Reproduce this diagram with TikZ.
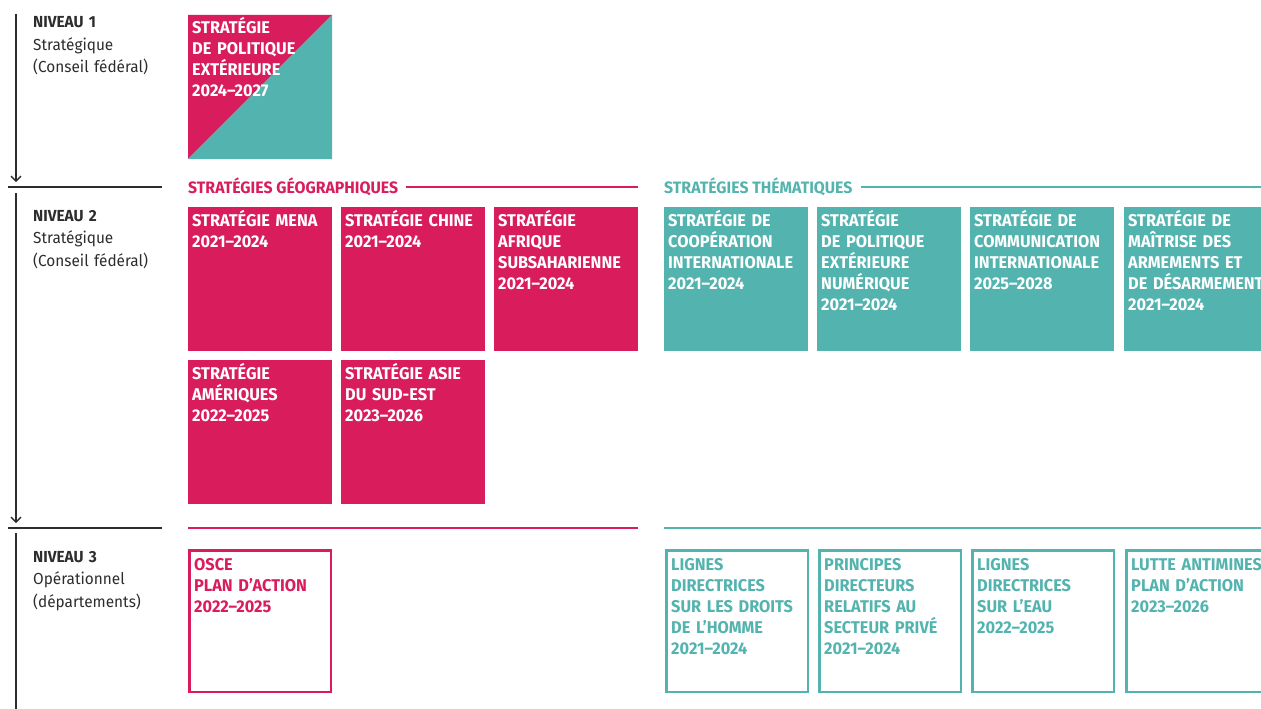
\documentclass[tikz,border=0pt]{standalone}
\usepackage{fontspec}
\setmainfont{Fira Sans}[FakeStretch=0.96]
\usetikzlibrary{arrows.meta}
\definecolor{cpink}{RGB}{217,28,92}
\definecolor{cteal}{RGB}{83,179,174}
\definecolor{cdark}{RGB}{45,45,45}
\tikzset{
  sq/.style={draw=none, minimum width=144pt, minimum height=144pt, anchor=north west, inner sep=0pt, outer sep=0pt},
  gsq/.style={sq, fill=cpink},
  tsq/.style={sq, fill=cteal},
  osq/.style={sq, draw=#1, line width=2.5pt, minimum width=141.5pt, minimum height=141.5pt},
  btxt/.style={anchor=base west, inner sep=0pt, text width=150pt, align=left, font=\bfseries\fontsize{17}{21}\selectfont, text=white},
  hdr/.style={anchor=base west, inner sep=0pt, font=\bfseries\fontsize{16.5}{20}\selectfont},
  lvl/.style={anchor=base west, inner sep=0pt, text width=130pt, align=left, text=cdark, font=\fontsize{16}{22.5}\selectfont},
  axis/.style={cdark, line width=1.3pt},
  axarr/.style={axis, -{Straight Barb[length=5pt,width=10pt]}},
  sep/.style={cdark, line width=1.5pt},
}
\begin{document}
\begin{tikzpicture}[x=1pt,y=-1pt]
\useasboundingbox (0,0) rectangle (1261,709);
\clip (0,0) rectangle (1261,709);

% axis on the left
\coordinate (a1s) at (16,14);
\coordinate (a1e) at (16,182);
\coordinate (a2s) at (16,193);
\coordinate (a2e) at (16,523);
\coordinate (a3s) at (16,533);
\coordinate (a3e) at (16,709);
\coordinate (s1a) at (8,187);
\coordinate (s1b) at (162,187);
\coordinate (s2a) at (8,528);
\coordinate (s2b) at (162,528);
\draw[axarr] (a1s) -- (a1e);
\draw[axarr] (a2s) -- (a2e);
\draw[axis] (a3s) -- (a3e);
\draw[sep] (s1a) -- (s1b);
\draw[sep] (s2a) -- (s2b);

% level labels
\node[lvl] (n1) at (33,28) {\textbf{NIVEAU 1}\\Stratégique\\(Conseil fédéral)};
\node[lvl] (n2) at (33,221) {\textbf{NIVEAU 2}\\Stratégique\\(Conseil fédéral)};
\node[lvl] (n3) at (33,562) {\textbf{NIVEAU 3}\\Opérationnel\\(départements)};

% level 1
\node[sq] (pol) at (188,15) {};
\fill[cpink] (pol.south west) -- (pol.north west) -- (pol.north east) -- cycle;
\fill[cteal] (pol.south west) -- (pol.south east) -- (pol.north east) -- cycle;
\node[btxt] (polt) at (192,34) {STRATÉGIE\\DE POLITIQUE\\EXTÉRIEURE\\2024--2027};

% headers
\node[hdr, text=cpink] (hgeo) at (188,193) {STRATÉGIES GÉOGRAPHIQUES};
\coordinate (hgeoE) at (638,187);
\draw[cpink, line width=2pt] (hgeo.east |- hgeoE) ++(8,0) -- (hgeoE);
\node[hdr, text=cteal] (hthe) at (664,193) {STRATÉGIES THÉMATIQUES};
\coordinate (htheE) at (1261,187);
\draw[cteal, line width=2pt] (hthe.east |- htheE) ++(8,0) -- (htheE);

% level 2 geographic
\node[gsq] (mena) at (188,207) {};
\node[btxt] at (192,226) {STRATÉGIE MENA\\2021--2024};
\node[gsq] (chine) at (341,207) {};
\node[btxt] at (345,226) {STRATÉGIE CHINE\\2021--2024};
\node[gsq] (afr) at (494,207) {};
\node[btxt] at (498,226) {STRATÉGIE\\AFRIQUE\\SUBSAHARIENNE\\2021--2024};
\node[gsq] (ame) at (188,360) {};
\node[btxt] at (192,379) {STRATÉGIE\\AMÉRIQUES\\2022--2025};
\node[gsq] (asie) at (341,360) {};
\node[btxt] at (345,379) {STRATÉGIE ASIE\\DU SUD-EST\\2023--2026};

% level 2 thematic
\node[tsq] (coop) at (664,207) {};
\node[btxt] at (668,226) {STRATÉGIE DE\\COOPÉRATION\\INTERNATIONALE\\2021--2024};
\node[tsq] (num) at (817,207) {};
\node[btxt] at (821,226) {STRATÉGIE\\DE POLITIQUE\\EXTÉRIEURE\\NUMÉRIQUE\\2021--2024};
\node[tsq] (com) at (970,207) {};
\node[btxt] at (974,226) {STRATÉGIE DE\\COMMUNICATION\\INTERNATIONALE\\2025--2028};
\node[tsq] (arm) at (1124,207) {};
\node[btxt] at (1128,226) {STRATÉGIE DE\\MAÎTRISE DES\\ARMEMENTS ET\\DE DÉSARMEMENT\\2021--2024};

% separators level 3
\coordinate (l3a) at (188,528);
\coordinate (l3b) at (638,528);
\coordinate (l3c) at (664,528);
\coordinate (l3d) at (1261,528);
\draw[cpink, line width=2pt] (l3a) -- (l3b);
\draw[cteal, line width=2pt] (l3c) -- (l3d);

% level 3
\node[osq=cpink] (osce) at (189.25,550.25) {};
\node[btxt, text=cpink] at (194,570) {OSCE\\PLAN D’ACTION\\2022--2025};
\node[osq=cteal] (dh) at (666.25,550.25) {};
\node[btxt, text=cteal] at (671,570) {LIGNES\\DIRECTRICES\\SUR LES DROITS\\DE L’HOMME\\2021--2024};
\node[osq=cteal] (priv) at (819.25,550.25) {};
\node[btxt, text=cteal] at (824,570) {PRINCIPES\\DIRECTEURS\\RELATIFS AU\\SECTEUR PRIVÉ\\2021--2024};
\node[osq=cteal] (eau) at (972.25,550.25) {};
\node[btxt, text=cteal] at (977,570) {LIGNES\\DIRECTRICES\\SUR L’EAU\\2022--2025};
\node[osq=cteal] (mines) at (1126.25,550.25) {};
\node[btxt, text=cteal] at (1131,570) {LUTTE ANTIMINES\\PLAN D’ACTION\\2023--2026};
\end{tikzpicture}
\end{document}
